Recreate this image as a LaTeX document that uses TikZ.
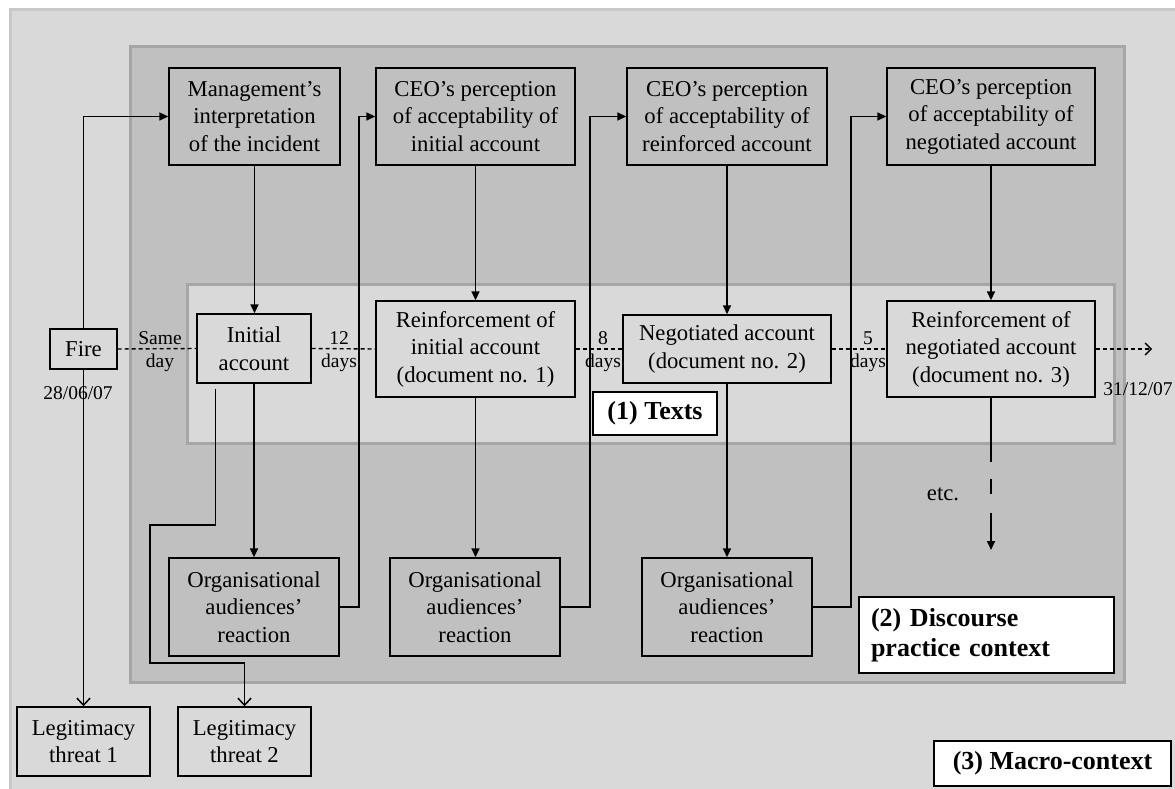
\documentclass[tikz,border=0pt]{standalone}
\usepackage{fontspec}
\setmainfont{Liberation Serif}
\usetikzlibrary{arrows.meta,calc}
\definecolor{lightg}{HTML}{D9D9D9}
\definecolor{midg}{HTML}{C0C0C0}
\definecolor{frameg}{HTML}{A6A6A6}
\definecolor{outerb}{HTML}{C8C8C8}
\begin{document}
\begin{tikzpicture}[x=1pt,y=-1pt,
  box/.style={draw=black,line width=1.4pt,align=center,inner sep=0pt,
    font=\fontsize{22.7}{27.5}\selectfont},
  darkbox/.style={box,fill=midg},
  lightbox/.style={box,fill=lightg},
  tag/.style={draw=black,line width=1.4pt,fill=white,inner sep=0pt,
    font=\bfseries\fontsize{26}{30}\selectfont},
  small/.style={align=center,inner sep=0pt,font=\fontsize{19.5}{23}\selectfont},
  arr/.style={line width=1.6pt,-{Triangle[length=9pt,width=8pt]}},
  openarr/.style={line width=1.6pt,-{Straight Barb[length=7pt,width=13pt,line width=1.5pt]}},
  timeline/.style={line width=1.4pt,dash pattern=on 4pt off 3pt},
]
\useasboundingbox (0,0) rectangle (1175,789);
% (3) macro context
\fill[lightg] (10,10) rectangle (1175,789);
\draw[outerb,line width=3pt] (10,789) -- (10,10) -- (1175,10);
% (2) discourse practice context
\draw[frameg,fill=midg,line width=3pt] (130,47) rectangle (1124,682);
% (1) texts
\draw[frameg,fill=lightg,line width=3pt] (187,284) rectangle (1114,443);

% top row
\node[darkbox,minimum width=171pt,minimum height=97pt] (mgmt) at (254.5,116.5)
  {Management's\\interpretation\\of the incident};
\node[darkbox,minimum width=199pt,minimum height=97pt] (ceo1) at (475.5,116.5)
  {CEO's perception\\of acceptability of\\initial account};
\node[darkbox,minimum width=200pt,minimum height=97pt] (ceo2) at (727,116.5)
  {CEO's perception\\of acceptability of\\reinforced account};
\node[darkbox,minimum width=208pt,minimum height=97pt] (ceo3) at (991,116.5)
  {CEO's perception\\of acceptability of\\negotiated account};

% middle row
\node[lightbox,minimum width=67pt,minimum height=40pt] (fire) at (83.5,349) {Fire};
\node[lightbox,minimum width=114pt,minimum height=69pt] (init) at (254,348.5)
  {Initial\\account};
\node[lightbox,minimum width=199pt,minimum height=96pt] (reinf1) at (475.5,349)
  {Reinforcement of\\initial account\\(document no. 1)};
\node[lightbox,minimum width=208pt,minimum height=68pt] (neg) at (727,349)
  {Negotiated account\\(document no. 2)};
\node[lightbox,minimum width=208pt,minimum height=96pt] (reinf3) at (991,349)
  {Reinforcement of\\negotiated account\\(document no. 3)};

% bottom row
\node[darkbox,minimum width=170pt,minimum height=98pt] (org1) at (254,607)
  {Organisational\\audiences'\\reaction};
\node[darkbox,minimum width=170pt,minimum height=98pt] (org2) at (475,607)
  {Organisational\\audiences'\\reaction};
\node[darkbox,minimum width=170pt,minimum height=98pt] (org3) at (727,607)
  {Organisational\\audiences'\\reaction};

\node[lightbox,minimum width=133pt,minimum height=69pt] (lt1) at (83.5,741.5)
  {Legitimacy\\threat 1};
\node[lightbox,minimum width=133pt,minimum height=69pt] (lt2) at (244.5,741.5)
  {Legitimacy\\threat 2};

% context tags
\node[tag,minimum width=124pt,minimum height=43pt] (t1) at (655,413.5) {(1) Texts};
\node[tag,minimum width=255pt,minimum height=76pt,align=left,text width=231pt]
  (t2) at (986.5,635) {(2) Discourse\\practice context};
\node[tag,minimum width=237pt,minimum height=45pt] (t3) at (1052.5,763.5) {(3) Macro-context};

% timeline
\coordinate (tend) at (1152,349);
\draw[timeline] (fire.east) -- (init.west);
\draw[timeline] (init.east) -- (reinf1.west);
\draw[timeline] (reinf1.east) -- (neg.west);
\draw[timeline] (neg.east) -- (reinf3.west);
\draw[timeline,-{Straight Barb[length=6pt,width=12pt,line width=1.4pt]}] (reinf3.east) -- (tend);

\node[small] (l0) at (160,352) {Same\\day};
\node[small] (l1) at (339,352) {12\\days};
\node[small] (l2) at (603,352) {8\\days};
\node[small] (l3) at (868,352) {5\\days};
\node[small] (d0) at (78,393) {28/06/07};
\node[small] (d1) at (1138,389) {31/12/07};
\node[inner sep=0pt,font=\fontsize{22.7}{27}\selectfont] (etc) at (943,494) {etc.};

% connectors
\draw[arr] (fire.north) |- (mgmt.west);
\draw[openarr] (fire.south) -- (lt1.north);
\draw[arr] (mgmt.south) -- (mgmt.south |- init.north);
\draw[arr] (init.south) -- (init.south |- org1.north);
\coordinate (s0) at ($(init.south west)+(19,5)$);
\coordinate (k1) at (150,525);
\coordinate (k2) at (244.5,663);
\draw[openarr] (s0) -- (s0 |- k1) -- (k1) -- (k1 |- k2) -- (k2) -- (lt2.north);
\draw[arr] (org1.east) -- ++(19,0) |- (ceo1.west);
\draw[arr] (ceo1.south) -- (ceo1.south |- reinf1.north);
\draw[arr] (reinf1.south) -- (reinf1.south |- org2.north);
\draw[arr] (org2.east) -- ++(29,0) |- (ceo2.west);
\draw[arr] (ceo2.south) -- (ceo2.south |- neg.north);
\draw[arr] (neg.south) -- (neg.south |- org3.north);
\draw[arr] (org3.east) -- ++(38,0) |- (ceo3.west);
\draw[arr] (ceo3.south) -- (reinf3.north);
\coordinate (etcend) at (991,550);
\draw[arr,dash pattern=on 64pt off 17pt on 15pt off 19pt on 80pt] (reinf3.south) -- (etcend);
\end{tikzpicture}
\end{document}
